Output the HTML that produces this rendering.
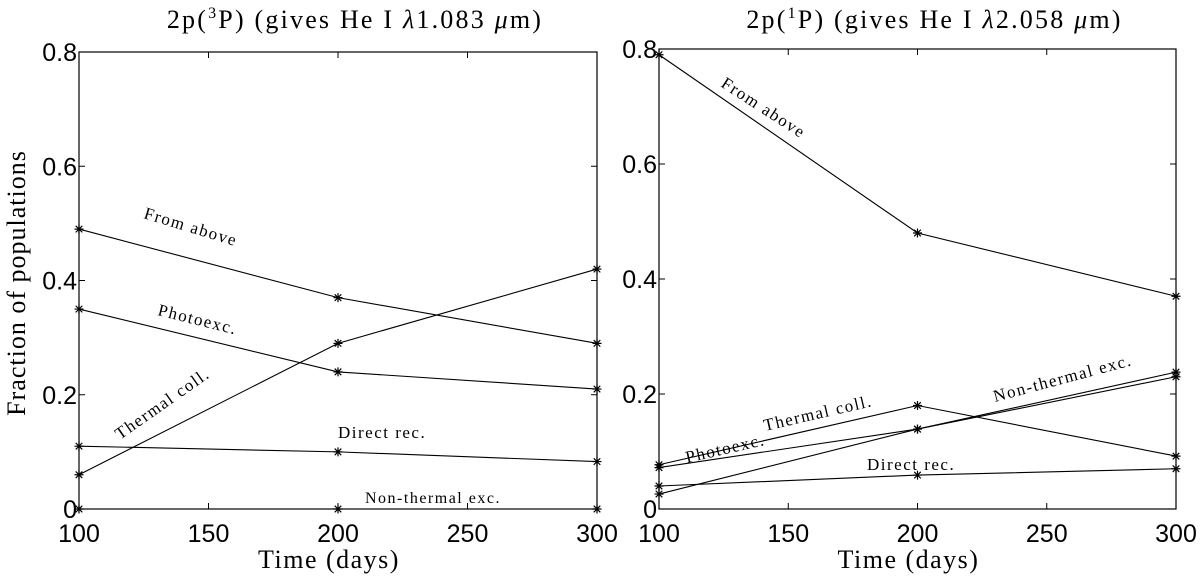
<!DOCTYPE html>
<html><head><meta charset="utf-8"><style>
body{margin:0;background:#fff;width:1200px;height:576px;overflow:hidden}
svg text{fill:#000}
.tk{font-family:"Liberation Sans",sans-serif;font-size:25px}
.sr{font-family:"Liberation Serif",serif}
</style></head><body>
<svg id="c" width="1200" height="576"></svg>
<script>
const times=[100,200,300];
const xTicks=[100,150,200,250,300];
const yTicks=[0,0.2,0.4,0.6,0.8];
const yTickLabels=["0","0.2","0.4","0.6","0.8"];
const leftFromAbove=[0.49,0.37,0.29];
const leftPhotoexc=[0.35,0.24,0.21];
const leftThermal=[0.06,0.29,0.42];
const leftDirect=[0.11,0.10,0.083];
const leftNonThermal=[0,0,0];
const rightFromAbove=[0.79,0.48,0.37];
const rightThermal=[0.077,0.18,0.092];
const rightPhotoexc=[0.072,0.139,0.23];
const rightNonThermal=[0.026,0.139,0.238];
const rightDirect=[0.04,0.059,0.07];
const NS="http://www.w3.org/2000/svg";
const svg=document.getElementById('c');
function mk(t,a,p){const e=document.createElementNS(NS,t);for(const k in a)e.setAttribute(k,a[k]);(p||svg).appendChild(e);return e;}
function panel(x0,x1,y0,y1,title,series,labels,name){
  const g=mk('g',{});
  
  
  const X=v=>x0+(v-100)/200*(x1-x0);
  const Y=v=>y0-(v/0.8)*(y0-y1);
  const box=mk('rect',{x:x0,y:y1,width:x1-x0,height:y0-y1,fill:'none',stroke:'#000','stroke-width':1.2},g);
  
  
  xTicks.forEach(t=>{
    mk('line',{x1:X(t),x2:X(t),y1:y0,y2:y0-6,stroke:'#000'},g);
    mk('line',{x1:X(t),x2:X(t),y1:y1,y2:y1+6,stroke:'#000'},g);
    const tx=mk('text',{x:X(t),y:y0+33,'text-anchor':'middle',class:'tk'},g);
    tx.textContent=t;
    
    
  });
  yTicks.forEach((t,i)=>{
    mk('line',{x1:x0,x2:x0+6,y1:Y(t),y2:Y(t),stroke:'#000'},g);
    mk('line',{x1:x1,x2:x1-6,y1:Y(t),y2:Y(t),stroke:'#000'},g);
    const tx=mk('text',{x:x0-2,y:Y(t)+9,'text-anchor':'end',class:'tk'},g);
    tx.textContent=yTickLabels[i];
    
    
  });
  series.forEach(s=>{
    const pl=mk('polyline',{points:s.map((v,i)=>X(times[i])+','+Y(v)).join(' '),fill:'none',stroke:'#000','stroke-width':1.1},g);
    
    
    s.forEach((v,i)=>{
      const cx=X(times[i]),cy=Y(v),r=4.5;
      const m=mk('path',{d:`M${cx-r},${cy}H${cx+r}M${cx},${cy-r}V${cy+r}M${cx-3.3},${cy-3.3}L${cx+3.3},${cy+3.3}M${cx-3.3},${cy+3.3}L${cx+3.3},${cy-3.3}`,stroke:'#000','stroke-width':1.2},g);
      
      
    });
  });
  labels.forEach(l=>{
    const t=mk('text',{x:l[1],y:l[2],class:'sr',transform:`rotate(${l[3]} ${l[1]} ${l[2]})`,'font-size':l[4]||17,'letter-spacing':'1.5'},g);
    t.textContent=l[0];
    
    
  });
  const tt=mk('text',{x:(x0+x1)/2+17,y:28,'text-anchor':'middle',class:'sr','font-size':26,'letter-spacing':'2.2'},g);
  tt.innerHTML=title;
  
  
  const xl=mk('text',{x:(x0+x1)/2-9,y:568,'text-anchor':'middle',class:'sr','font-size':26,'letter-spacing':'1.5'},g);
  xl.textContent='Time (days)';
  
  
}
panel(79,597,509,52,'2p(<tspan dy="-10" font-size="16">3</tspan><tspan dy="10">P) (gives He I </tspan><tspan font-style="italic">λ</tspan>1.083 <tspan font-style="italic">μ</tspan>m)',
 [leftFromAbove,leftPhotoexc,leftThermal,leftDirect,leftNonThermal],
 [["From above",143,218,17],["Photoexc.",157,315,14],["Thermal coll.",120,440,-35],["Direct rec.",338,438,0],["Non-thermal exc.",365,503,0,16]],'left-panel');
panel(659,1176,509,49,'2p(<tspan dy="-10" font-size="16">1</tspan><tspan dy="10">P) (gives He I </tspan><tspan font-style="italic">λ</tspan>2.058 <tspan font-style="italic">μ</tspan>m)',
 [rightFromAbove,rightThermal,rightPhotoexc,rightNonThermal,rightDirect],
 [["From above",720,86,33],["Thermal coll.",765,431,-13],["Photoexc.",687,463,-13],["Non-thermal exc.",995,402,-15],["Direct rec.",867,470,0]],'right-panel');
const yl=mk('text',{x:25,y:283,'text-anchor':'middle',class:'sr','font-size':26,'letter-spacing':'1',transform:'rotate(-90 25 283)'});
yl.textContent='Fraction of populations';


</script>
</body></html>
